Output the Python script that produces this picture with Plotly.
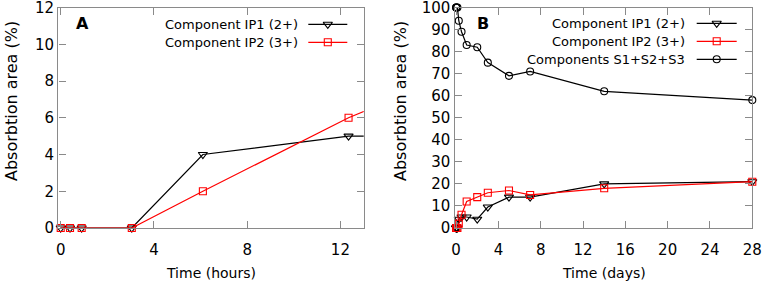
import plotly.graph_objects as go

# ---- data ----
time_hours = [0, 0.4, 0.9, 3.05, 6.1, 12.35, 24, 48, 72, 120, 168, 336, 672]
ip1 = [0, 0, 0, 0, 4, 5, 5, 4, 9.5, 14, 14, 20, 21]
ip2 = [0, 0, 0, 0, 2, 6, 12, 14, 16, 17, 15, 18, 21]
s_sum = [100, 100, 100, 100, 94, 89, 83, 82, 75, 69, 71, 62, 58]
time_days = [t / 24 for t in time_hours]

a_xticks = [0, 4, 8, 12]
a_yticks = [0, 2, 4, 6, 8, 10, 12]
b_xticks = [0, 4, 8, 12, 16, 20, 24, 28]
b_yticks = list(range(0, 101, 10))

names = ["Component IP1 (2+)", "Component IP2 (3+)", "Components S1+S2+S3"]
y_title = "Absorbtion area (%)"
a_x_title = "Time (hours)"
b_x_title = "Time (days)"

# ---- style ----
W, H = 765, 284
FONT = "DejaVu Sans"
GREY = "#8a8a8a"
RED = "#ff0000"
BLACK = "#000000"
A_XMAX = 13.0

sty = {
    "ip1": dict(color=BLACK, symbol="triangle-down-open", size=8),
    "ip2": dict(color=RED, symbol="square-open", size=7),
    "sum": dict(color=BLACK, symbol="circle-open", size=7),
}

fig = go.Figure()


def add_series(x, y, key, xa, ya, clip_x=None):
    s = sty[key]
    fig.add_trace(go.Scatter(x=x, y=y, mode="lines", xaxis=xa, yaxis=ya,
                             line=dict(color=s["color"], width=1.2),
                             showlegend=False, hoverinfo="skip"))
    if clip_x is not None:
        pts = [(a, b) for a, b in zip(x, y) if a <= clip_x]
        mx, my = [p[0] for p in pts], [p[1] for p in pts]
    else:
        mx, my = x, y
    fig.add_trace(go.Scatter(x=mx, y=my, mode="markers", xaxis=xa, yaxis=ya,
                             cliponaxis=False,
                             marker=dict(symbol=s["symbol"], size=s["size"],
                                         color=s["color"],
                                         line=dict(color=s["color"], width=1.1)),
                             showlegend=False))


# Panel A
add_series(time_hours, ip1, "ip1", "x", "y", clip_x=A_XMAX)
add_series(time_hours, ip2, "ip2", "x", "y", clip_x=A_XMAX)
# Panel B
add_series(time_days, s_sum, "sum", "x2", "y2")
add_series(time_days, ip1, "ip1", "x2", "y2")
add_series(time_days, ip2, "ip2", "x2", "y2")

# ---- custom legends (symbol to the right of text), pixel overlay axis ----
legends = [
    (299.5, 308.3, 347.3, 24.3, ["ip1", "ip2"]),
    (686.7, 696.7, 736.7, 23.3, ["ip1", "ip2", "sum"]),
]
label_of = {"ip1": names[0], "ip2": names[1], "sum": names[2]}
annotations = []
for tx, lx0, lx1, y0, keys in legends:
    for i, k in enumerate(keys):
        yy = y0 + 18 * i
        s = sty[k]
        annotations.append(dict(x=tx, y=yy, xref="x3", yref="y3", text=label_of[k],
                                showarrow=False, xanchor="right", yanchor="middle",
                                font=dict(family=FONT, size=13, color=BLACK)))
        fig.add_trace(go.Scatter(x=[lx0, lx1], y=[yy, yy], mode="lines", xaxis="x3", yaxis="y3",
                                 line=dict(color=s["color"], width=1.2), showlegend=False,
                                 hoverinfo="skip"))
        fig.add_trace(go.Scatter(x=[(lx0 + lx1) / 2], y=[yy], mode="markers", xaxis="x3", yaxis="y3",
                                 marker=dict(symbol=s["symbol"], size=s["size"], color=s["color"],
                                             line=dict(color=s["color"], width=1.1)),
                                 showlegend=False, hoverinfo="skip", cliponaxis=False))

# panel letters
annotations.append(dict(x=82, y=23, xref="x3", yref="y3", text="<b>A</b>", showarrow=False,
                        font=dict(family=FONT, size=16, color=BLACK)))
annotations.append(dict(x=482.5, y=23, xref="x3", yref="y3", text="<b>B</b>", showarrow=False,
                        font=dict(family=FONT, size=16, color=BLACK)))
# axis titles
for x, y, t, ang, fs in [(11, 101, y_title, -90, 16), (400, 101, y_title, -90, 16),
                         (211, 273, a_x_title, 0, 14), (603.5, 273, b_x_title, 0, 14)]:
    annotations.append(dict(x=x, y=y, xref="x3", yref="y3", text=t, showarrow=False,
                            textangle=ang, xanchor="center", yanchor="middle",
                            font=dict(family=FONT, size=fs, color=BLACK)))

axis_common = dict(showline=True, linecolor=GREY, linewidth=1.4, mirror="allticks",
                   ticks="inside", ticklen=7, tickcolor=GREY, tickwidth=1.2,
                   showgrid=False, zeroline=False, automargin=False,
                   ticklabeloverflow="allow",
                   tickfont=dict(family=FONT, size=15, color=BLACK))
ydom = [1 - 228.0 / H, 1 - 7.5 / H]

fig.update_layout(
    width=W, height=H,
    margin=dict(l=0, r=0, t=0, b=0),
    paper_bgcolor="white", plot_bgcolor="rgba(0,0,0,0)",
    font=dict(family=FONT, color=BLACK),
    showlegend=False,
    hovermode=False,
    xaxis=dict(domain=[58.3 / W, 363.7 / W], range=[-0.103, A_XMAX], tickvals=a_xticks,
               ticklabelstandoff=8, anchor="y", **axis_common),
    yaxis=dict(domain=ydom, range=[0, 12], tickvals=a_yticks, anchor="x", **axis_common),
    xaxis2=dict(domain=[454.5 / W, 752.3 / W], range=[-0.15, 28], tickvals=b_xticks,
                ticklabelstandoff=8, anchor="y2", **axis_common),
    yaxis2=dict(domain=ydom, range=[0, 100], tickvals=b_yticks, anchor="x2", **axis_common),
    xaxis3=dict(domain=[0, 1], range=[0, W], visible=False, fixedrange=True),
    yaxis3=dict(domain=[0, 1], range=[H, 0], visible=False, fixedrange=True, anchor="x3"),
    annotations=annotations,
)

fig.write_html("out.html", config={"displayModeBar": False},
               post_script="document.body.style.margin='0';")
